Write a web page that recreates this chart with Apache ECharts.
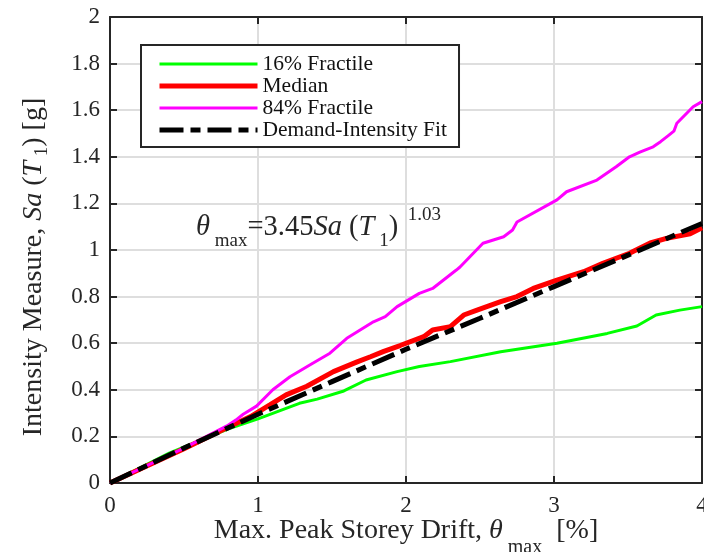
<!DOCTYPE html>
<html>
<head>
<meta charset="utf-8">
<script src="https://cdn.jsdelivr.net/npm/echarts@6/dist/echarts.min.js"></script>
<style>html,body{margin:0;padding:0;background:#fff}#chart{width:704px;height:552px}</style>
</head>
<body>
<div id="chart"></div>
<script>
const xTicks = [0, 1, 2, 3, 4];
const yTicks = [0, 0.2, 0.4, 0.6, 0.8, 1, 1.2, 1.4, 1.6, 1.8, 2];

const frac16Drift = [0, 0.4, 0.8, 1.0, 1.28, 1.4, 1.58, 1.73, 1.94, 2.09, 2.3, 2.64, 3.02, 3.36, 3.56, 3.69, 3.85, 4.0];
const frac16Sa    = [0, 0.128, 0.232, 0.275, 0.342, 0.36, 0.395, 0.442, 0.478, 0.5, 0.521, 0.563, 0.6, 0.642, 0.674, 0.721, 0.742, 0.757];

const medianDrift = [0, 0.5, 0.8, 0.95, 1.08, 1.19, 1.33, 1.51, 1.67, 1.76, 1.85, 1.96, 2.12, 2.18, 2.3, 2.39, 2.48, 2.64, 2.75, 2.86, 3.02, 3.2, 3.33, 3.51, 3.65, 3.76, 3.92, 4.0];
const medianSa    = [0, 0.147, 0.24, 0.285, 0.335, 0.378, 0.415, 0.478, 0.52, 0.542, 0.565, 0.59, 0.628, 0.657, 0.671, 0.721, 0.742, 0.778, 0.8, 0.835, 0.871, 0.907, 0.943, 0.986, 1.03, 1.05, 1.07, 1.095];

const frac84Drift = [0, 0.5, 0.79, 0.85, 0.9, 0.99, 1.1, 1.216, 1.37, 1.486, 1.6, 1.78, 1.86, 1.94, 2.09, 2.18, 2.34, 2.365, 2.52, 2.66, 2.72, 2.75, 3.02, 3.085, 3.29, 3.42, 3.51, 3.58, 3.67, 3.72, 3.77, 3.81, 3.83, 3.94, 4.0];
const frac84Sa    = [0, 0.15, 0.245, 0.27, 0.295, 0.33, 0.4, 0.456, 0.514, 0.557, 0.621, 0.692, 0.714, 0.757, 0.814, 0.835, 0.914, 0.927, 1.029, 1.057, 1.086, 1.12, 1.215, 1.25, 1.3, 1.357, 1.4, 1.42, 1.443, 1.465, 1.49, 1.51, 1.544, 1.615, 1.637];

const fitDrift = [0, 0.5, 1, 1.5, 2, 2.5, 3, 3.5, 4];
const fitSa    = [0, 0.15, 0.295, 0.435, 0.574, 0.707, 0.843, 0.978, 1.114];

const FONT = '"Liberation Serif", "DejaVu Serif", serif';
const INK = '#262626';
const FIT_DASH = [24, 7, 10, 7];

function pairs(xs, ys) { return xs.map((x, i) => [x, ys[i]]); }

// rich text styles: subscripts pushed down / superscripts up via padding
function richSet(size, subSize, down, up, colorKey) {
  const c = {}; c[colorKey] = INK;
  const lh = size + 2 * Math.max(down, up) + 14;
  return {
    t: Object.assign({ fontFamily: FONT, fontSize: size, lineHeight: lh, verticalAlign: 'middle' }, c),
    i: Object.assign({ fontFamily: FONT, fontSize: size, fontStyle: 'italic', lineHeight: lh, verticalAlign: 'middle' }, c),
    s: Object.assign({ fontFamily: FONT, fontSize: subSize, lineHeight: subSize, verticalAlign: 'middle', padding: [2 * down, 0, 0, 0] }, c),
    p: Object.assign({ fontFamily: FONT, fontSize: subSize, lineHeight: subSize, verticalAlign: 'middle', padding: [0, 0, 2 * up, 5] }, c),
  };
}

const chart = echarts.init(document.getElementById('chart'));

function axisBase(extra) {
  return Object.assign({
    type: 'value',
    axisLine: { show: true, onZero: false, lineStyle: { color: INK, width: 2 } },
    axisTick: { show: true, inside: true, length: 7, lineStyle: { color: INK, width: 2 } },
  }, extra);
}

chart.setOption({
  animation: false,
  backgroundColor: '#fff',
  grid: { left: 110, right: 2, top: 17, bottom: 69, containLabel: false, outerBoundsMode: 'none' },
  legend: {
    orient: 'vertical', left: 141, top: 45,
    padding: [8, 12, 6, 16], itemGap: 0,
    itemWidth: 98, itemHeight: 12,
    borderColor: INK, borderWidth: 2, backgroundColor: '#fff',
    itemStyle: { opacity: 0 },
    textStyle: { fontFamily: FONT, fontSize: 21.5, lineHeight: 21.2, color: '#111' },
    data: [
      { name: '16% Fractile', lineStyle: { width: 3 } },
      { name: 'Median', lineStyle: { width: 5 } },
      { name: '84% Fractile', lineStyle: { width: 3 } },
      { name: 'Demand-Intensity Fit', lineStyle: { width: 5, type: FIT_DASH } },
    ],
  },
  xAxis: [
    axisBase({
      min: 0, max: 4, interval: 1,
      axisLabel: { color: INK, fontFamily: FONT, fontSize: 23, margin: 11,
        formatter: v => xTicks.includes(v) ? String(v) : '' },
      splitLine: { show: true, lineStyle: { color: '#dedede', width: 2 } },
      name: '{t|Max. Peak Storey Drift, }{i|θ}{s| max}{t|  [%]}',
      nameLocation: 'middle', nameGap: 10, nameMoveOverlap: false,
      nameTextStyle: { rich: richSet(28, 20, 17, 0, 'color') },
    }),
    axisBase({ position: 'top', min: 0, max: 4, interval: 1, axisLabel: { show: false }, splitLine: { show: false } }),
  ],
  yAxis: [
    axisBase({
      min: 0, max: 2, interval: 0.2,
      axisLabel: { color: INK, fontFamily: FONT, fontSize: 23, margin: 10,
        formatter: v => String(Math.round(v * 10) / 10) },
      splitLine: { show: true, lineStyle: { color: '#dedede', width: 2 } },
      name: '{t|Intensity Measure, }{i|Sa}{t| (}{i|T}{s| 1}{t|) [g]}',
      nameLocation: 'middle', nameGap: 47, nameRotate: 90, nameMoveOverlap: false,
      nameTextStyle: { rich: richSet(28, 19, 8, 0, 'color'), padding: [0, 34, 0, 0] },
    }),
    axisBase({ position: 'right', min: 0, max: 2, interval: 0.2, axisLabel: { show: false }, splitLine: { show: false } }),
  ],
  graphic: [{
    type: 'text', left: 196, top: 204, z: 10,
    style: {
      text: '{i|θ}{s| max}{t|=3.45}{i|Sa}{t| (}{i|T}{s| 1}{t|)}{p| 1.03}',
      rich: richSet(28.5, 19, 14, 12, 'fill'),
    },
  }],
  series: [
    { name: '16% Fractile', type: 'line', data: pairs(frac16Drift, frac16Sa), showSymbol: false, symbol: 'none',
      lineStyle: { color: '#00ff00', width: 3 }, itemStyle: { color: '#00ff00' } },
    { name: 'Median', type: 'line', data: pairs(medianDrift, medianSa), showSymbol: false, symbol: 'none',
      lineStyle: { color: '#ff0000', width: 5 }, itemStyle: { color: '#ff0000' } },
    { name: '84% Fractile', type: 'line', data: pairs(frac84Drift, frac84Sa), showSymbol: false, symbol: 'none',
      lineStyle: { color: '#ff00ff', width: 3 }, itemStyle: { color: '#ff00ff' } },
    { name: 'Demand-Intensity Fit', type: 'line', data: pairs(fitDrift, fitSa), showSymbol: false, symbol: 'none',
      lineStyle: { color: '#000', width: 5, type: FIT_DASH, cap: 'butt' }, itemStyle: { color: '#000' } },
  ],
});
</script>
</body>
</html>
